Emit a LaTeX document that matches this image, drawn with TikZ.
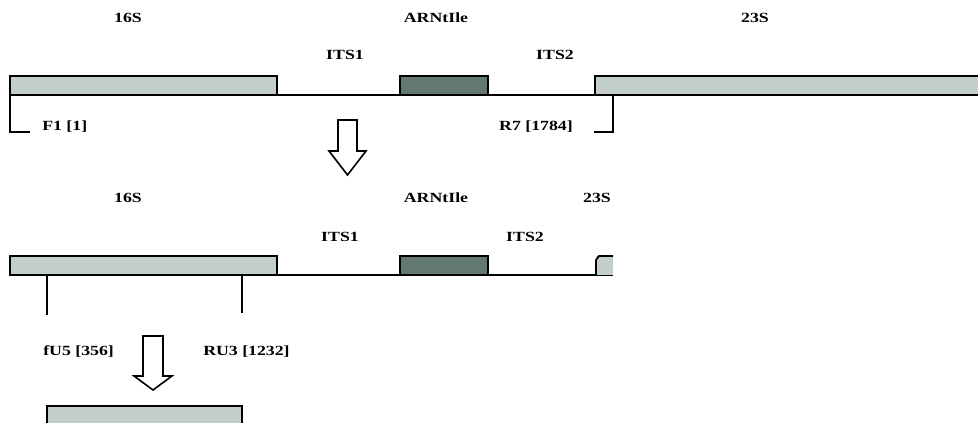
\documentclass[tikz,border=0pt]{standalone}
\usepackage{fontspec}
\setmainfont{Liberation Serif}
\definecolor{lightbox}{HTML}{C3CDCB}
\definecolor{darkbox}{HTML}{637773}
\tikzset{
  gene/.style={draw=black, line width=1.8pt, fill=lightbox},
  trna/.style={draw=black, line width=1.8pt, fill=darkbox},
  dnaline/.style={draw=black, line width=1.8pt},
  lbl/.style={inner sep=0pt, font=\fontsize{14}{14}\selectfont\bfseries, xscale=1.27, transform shape},
  hollowarrow/.style={draw=black, line width=1.6pt, fill=white, line join=miter}
}
\begin{document}
\begin{tikzpicture}[x=1pt,y=-1pt]
\useasboundingbox (0,0) rectangle (978,423);
\clip (0,0) rectangle (978,423);
% ---------- row 1 ----------
\coordinate (r1a) at (277,95);
\coordinate (r1b) at (595,95);
\draw[dnaline] (r1a) -- (r1b);
\draw[gene] (10,76) rectangle (277,95);
\draw[trna] (400,76) rectangle (488,95);
\draw[gene] (595,76) rectangle (990,95);
\node[lbl] (t16a) at (128,18) {16S};
\node[lbl] (tra) at (436,18) {ARNtIle};
\node[lbl] (t23a) at (755,18) {23S};
\node[lbl] (its1a) at (345,55) {ITS1};
\node[lbl] (its2a) at (555,55) {ITS2};
\node[lbl, anchor=west] (f1) at (42,127) {F1 [1]};
\node[lbl, anchor=east] (r7) at (573,127) {R7 [1784]};
\coordinate (bl0) at (10,95);
\coordinate (bl1) at (10,132);
\coordinate (bl2) at (30,132);
\draw[line width=1.8pt] (bl0) -- (bl1) -- (bl2);
\coordinate (br0) at (613,95);
\coordinate (br1) at (613,132);
\coordinate (br2) at (594,132);
\draw[line width=1.8pt] (br0) -- (br1) -- (br2);
% arrow 1
\draw[hollowarrow] (338,120) -- (357,120) -- (357,151) -- (366,151) -- (347.5,175) -- (329,151) -- (338,151) -- cycle;
% ---------- row 2 ----------
\coordinate (r2a) at (277,275);
\coordinate (r2b) at (613,275);
\draw[dnaline] (r2a) -- (r2b);
\draw[gene] (10,256) rectangle (277,275);
\draw[trna] (400,256) rectangle (488,275);
\fill[lightbox] (596,256) rectangle (613,275);
\draw[line width=1.8pt] (596,275) -- (596,260) -- (599,256) -- (613,256);
\node[lbl] (t16b) at (128,198) {16S};
\node[lbl] (trb) at (436,198) {ARNtIle};
\node[lbl] (t23b) at (597,198) {23S};
\node[lbl] (its1b) at (340,237) {ITS1};
\node[lbl] (its2b) at (525,237) {ITS2};
\coordinate (v1a) at (47,275);
\coordinate (v1b) at (47,315);
\coordinate (v2a) at (242,275);
\coordinate (v2b) at (242,313);
\draw[line width=1.6pt] (v1a) -- (v1b);
\draw[line width=1.6pt] (v2a) -- (v2b);
\node[lbl, anchor=west] (fu5) at (43,352) {fU5 [356]};
\node[lbl, anchor=west] (ru3) at (203,352) {RU3 [1232]};
% arrow 2
\draw[hollowarrow] (143,336) -- (163,336) -- (163,376) -- (172,376) -- (153,390) -- (134,376) -- (143,376) -- cycle;
% bottom product
\draw[gene] (47,406) rectangle (242,440);
\end{tikzpicture}
\end{document}
